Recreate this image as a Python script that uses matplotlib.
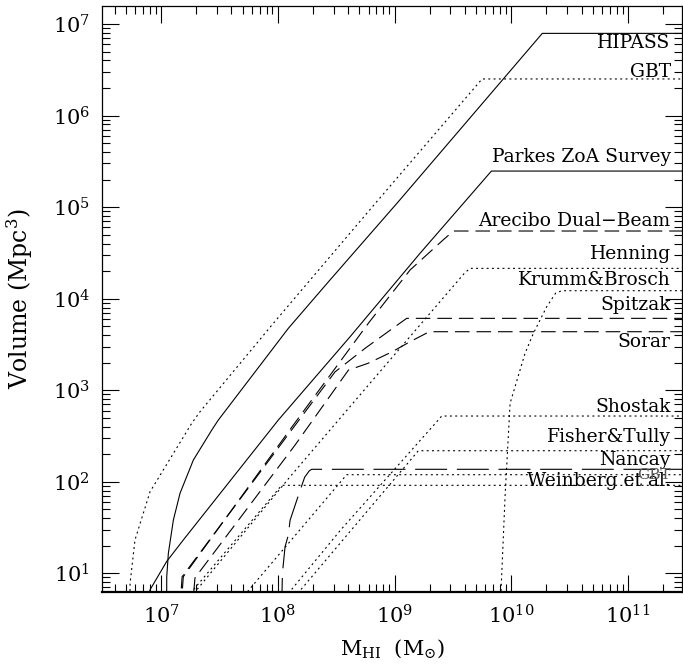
import numpy as np
import matplotlib
matplotlib.use("Agg")
import matplotlib.pyplot as plt
from matplotlib.ticker import FixedLocator, LogFormatterMathtext, NullFormatter

plt.rcParams['font.family'] = ['DejaVu Serif']
plt.rcParams['mathtext.fontset'] = 'dejavuserif'
plt.rcParams['lines.scale_dashes'] = False

# ---- data: log10(M_HI / Msun) and log10(Volume / Mpc^3) ----
hipass_logM = [7.047, 7.048, 7.062, 7.105, 7.162, 7.276, 7.434, 7.49, 8.09, 8.447, 9.033, 10.266, 11.6]
hipass_logV = [0.0, 0.96, 1.218, 1.582, 1.874, 2.237, 2.565, 2.674, 3.676, 4.204, 5.06, 6.898, 6.898]

gbt_hi_logM = [6.728, 6.734, 6.776, 6.905, 7.262, 7.333, 7.961, 8.847, 9.75, 11.6]
gbt_hi_logV = [0.0, 0.891, 1.364, 1.891, 2.638, 2.765, 3.73, 5.059, 6.40, 6.40]

parkes_logM = [6.895, 6.905, 7.048, 7.19, 8.004, 8.619, 9.218, 9.83, 11.6]
parkes_logV = [0.75, 0.82, 1.13, 1.364, 2.674, 3.584, 4.495, 5.394, 5.394]

arecibo_logM = [7.17, 7.19, 8.133, 8.779, 9.133, 9.415, 9.504, 11.6]
arecibo_logV = [0.6, 0.963, 2.62, 3.737, 4.313, 4.64, 4.739, 4.739]

henning_logM = [7.28, 8.105, 8.789, 9.60, 9.647, 11.6]
henning_logV = [0.78, 2.055, 3.075, 4.28, 4.331, 4.331]

krumm_logM = [9.905, 9.912, 9.947, 9.99, 10.118, 10.19, 10.304, 10.38, 10.433, 11.6]
krumm_logV = [0.0, 0.8, 1.837, 2.857, 3.403, 3.622, 3.912, 4.06, 4.087, 4.087]

spitzak_logM = [7.16, 7.18, 8.15, 8.49, 8.75, 9.0, 9.104, 11.6]
spitzak_logV = [0.6, 0.963, 2.62, 3.2, 3.46, 3.69, 3.785, 3.785]

sorar_logM = [7.28, 7.29, 8.147, 8.605, 8.773, 8.98, 9.133, 9.298, 11.6]
sorar_logV = [0.8, 0.95, 2.4, 3.22, 3.294, 3.42, 3.53, 3.639, 3.639]

shostak_logM = [8.09, 8.538, 9.362, 9.404, 11.6]
shostak_logV = [0.78, 1.473, 2.656, 2.718, 2.718]

fisher_logM = [8.17, 9.204, 11.6]
fisher_logV = [0.78, 2.339, 2.339]

nancay_logM = [8.033, 8.038, 8.042, 8.062, 8.09, 8.105, 8.176, 8.23, 8.27, 8.29, 11.6]
nancay_logV = [0.6, 0.93, 1.036, 1.29, 1.418, 1.58, 1.85, 2.05, 2.12, 2.136, 2.136]

gbt_lo_logM = [7.74, 8.59, 11.6]
gbt_lo_logV = [0.8, 2.077, 2.077]

weinberg_logM = [7.25, 8.033, 11.6]
weinberg_logV = [0.78, 1.961, 1.961]

labels = ["HIPASS", "GBT", "Parkes ZoA Survey", "Arecibo Dual\u2212Beam", "Henning",
          "Krumm&Brosch", "Spitzak", "Sorar", "Shostak", "Fisher&Tully", "Nancay",
          "Weinberg et al."]

x_major = [1e7, 1e8, 1e9, 1e10, 1e11]
y_major = [1e1, 1e2, 1e3, 1e4, 1e5, 1e6, 1e7]

# ---- figure ----
W, H = 683, 667
fig = plt.figure(figsize=(W / 100, H / 100), dpi=100)
L, R, T, B = 102.3, 682.0, 6.0, 591.7
ax = fig.add_axes([L / W, 1 - B / H, (R - L) / W, (B - T) / H])

dot = (0, (1.4, 2.4))
dash = (0, (10.5, 5.0))
longdash = (0, (23.0, 7.0))
lw = 0.8

def draw(lm, lv, ls):
    ax.plot(np.power(10.0, lm), np.power(10.0, lv), color='black', lw=lw, linestyle=ls,
            solid_capstyle='butt', dash_capstyle='butt')

draw(hipass_logM, hipass_logV, '-')
draw(gbt_hi_logM, gbt_hi_logV, dot)
draw(parkes_logM, parkes_logV, '-')
draw(arecibo_logM, arecibo_logV, dash)
draw(henning_logM, henning_logV, dot)
draw(krumm_logM, krumm_logV, dot)
draw(spitzak_logM, spitzak_logV, dash)
draw(sorar_logM, sorar_logV, dash)
draw(shostak_logM, shostak_logV, dot)
draw(fisher_logM, fisher_logV, dot)
draw(nancay_logM, nancay_logV, longdash)
draw(gbt_lo_logM, gbt_lo_logV, dot)
draw(weinberg_logM, weinberg_logV, dot)

ax.set_xscale('log')
ax.set_yscale('log')
ax.set_xlim(10 ** 6.496, 10 ** 11.463)
ax.set_ylim(10 ** 0.799, 10 ** 7.197)

x_minor = [m * d for d in [1e6, 1e7, 1e8, 1e9, 1e10, 1e11] for m in range(2, 10)
           if 10 ** 6.496 < m * d < 10 ** 11.463]
y_minor = [m * d for d in [1e0, 1e1, 1e2, 1e3, 1e4, 1e5, 1e6, 1e7] for m in range(2, 10)
           if 10 ** 0.799 < m * d < 10 ** 7.197]
ax.xaxis.set_major_locator(FixedLocator(x_major))
ax.yaxis.set_major_locator(FixedLocator(y_major))
ax.xaxis.set_minor_locator(FixedLocator(x_minor))
ax.yaxis.set_minor_locator(FixedLocator(y_minor))
ax.xaxis.set_major_formatter(LogFormatterMathtext())
ax.yaxis.set_major_formatter(LogFormatterMathtext())
ax.xaxis.set_minor_formatter(NullFormatter())
ax.yaxis.set_minor_formatter(NullFormatter())

ax.tick_params(which='both', direction='in', top=True, right=True, labelsize=15, width=0.8)
ax.tick_params(which='major', length=12)
ax.tick_params(which='minor', length=6)
ax.tick_params(axis='x', which='major', pad=9)
ax.tick_params(axis='y', which='major', pad=9)
for s in ['left', 'right', 'top']:
    ax.spines[s].set_linewidth(0.9)
ax.spines['bottom'].set_linewidth(1.6)

ax.set_xlabel(r'M$_{\rm HI}$  (M$_{\odot}$)', fontsize=15)
ax.set_ylabel(r'Volume (Mpc$^3$)', fontsize=17)
ax.xaxis.set_label_coords(0.5, -0.078)
ax.yaxis.set_label_coords(-0.116, 0.5)

# label placement (pixel rows of label centres)
label_y = [43, 71.7, 156.7, 220.7, 254, 280, 305, 341.7, 407.3, 437.3, 460, 480.7]
xr = (670.7 - L) / (R - L)
for txt, yy in zip(labels, label_y):
    ax.text(xr, (B - yy) / (B - T), txt, transform=ax.transAxes, ha='right', va='center',
            fontsize=13.5)
ax.text(xr, (B - 475) / (B - T), "GBT", transform=ax.transAxes, ha='right', va='center',
        fontsize=11, color='0.35')

fig.savefig('out.png', dpi=100)
